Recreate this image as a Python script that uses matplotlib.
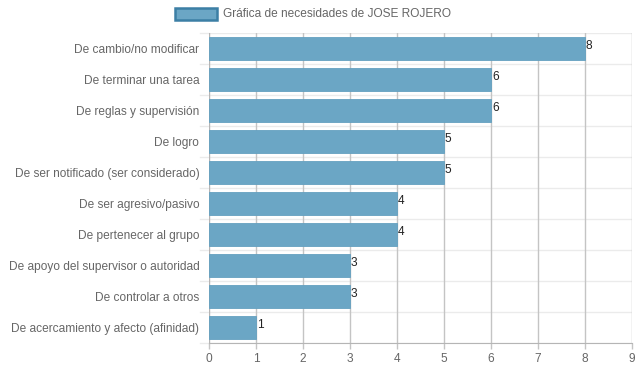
import matplotlib
matplotlib.use("Agg")
import matplotlib.pyplot as plt
import numpy as np
from matplotlib.patches import Rectangle

categories = [
    "De cambio/no modificar",
    "De terminar una tarea",
    "De reglas y supervisión",
    "De logro",
    "De ser notificado (ser considerado)",
    "De ser agresivo/pasivo",
    "De pertenecer al grupo",
    "De apoyo del supervisor o autoridad",
    "De controlar a otros",
    "De acercamiento y afecto (afinidad)",
]
values = [8, 6, 6, 5, 5, 4, 4, 3, 3, 1]
series_label = "Gráfica de necesidades de JOSE ROJERO"
xticks = list(range(0, 10))

plt.rcParams['font.family'] = ['Liberation Sans', 'DejaVu Sans']

W, H = 639, 372
fig = plt.figure(figsize=(W / 100, H / 100), dpi=100)
left, right, top, bottom = 209, 632, 33, 343
ax = fig.add_axes([left / W, 1 - bottom / H, (right - left) / W, (bottom - top) / H])

n = len(categories)
ypos = np.arange(n)
bar_color = "#6ba6c5"
edge_color = "#64a0c0"
ax.barh(ypos, values, height=0.72, color=bar_color, edgecolor=edge_color, linewidth=0.6, zorder=2)

ax.set_xlim(0, 9)
ax.set_ylim(n - 0.5, -0.5)
ax.set_xticks(xticks)
ax.set_xticklabels([str(t) for t in xticks])
ax.set_yticks(ypos)
ax.set_yticklabels(categories)

# grid lines
for x in xticks:
    ax.axvline(x, color="#c4c4c4" if x > 0 else "#b5b5b5", linewidth=1, zorder=1)
for b in np.arange(-0.5, n, 1.0):
    ax.axhline(b, color="#ebebeb", linewidth=1, zorder=0)
    ax.plot([-0.2, 0], [b, b], color="#ebebeb", linewidth=1, clip_on=False, zorder=0)

for s in ["top", "right", "left"]:
    ax.spines[s].set_visible(False)
ax.spines["bottom"].set_color("#b5b5b5")
ax.tick_params(axis="x", colors="#666666", labelsize=8.6, length=4, width=1, color="#c4c4c4", pad=3)
ax.tick_params(axis="y", colors="#666666", labelsize=8.6, length=0, pad=7)

for y, v in zip(ypos, values):
    ax.text(v + 0.02, y - 0.08, str(v), fontsize=8.6, color="#222222", va="center", ha="left", zorder=3)

# legend
lx, ly, lw, lh = 175, 8, 42, 12
fig.patches.append(Rectangle((lx / W, 1 - (ly + lh) / H), lw / W, lh / H,
                             transform=fig.transFigure, facecolor=bar_color,
                             edgecolor="#3c7fa5", linewidth=1.8))
fig.text((lx + lw + 6) / W, 1 - (ly + lh / 2) / H, series_label, fontsize=8.6,
         color="#666666", va="center", ha="left")

fig.savefig("out.png", dpi=100)
